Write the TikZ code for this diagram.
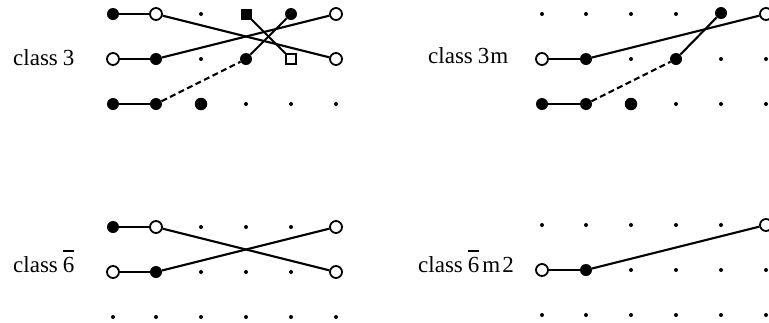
\documentclass[tikz,border=0pt]{standalone}
\usepackage{fontspec}
\setmainfont{Liberation Serif}
\newcommand{\ovsix}{\mbox{\raisebox{0pt}[0pt][0pt]{\rlap{\rule[20pt]{11pt}{1.6pt}}}6}}
\begin{document}
\begin{tikzpicture}[x=1pt,y=-1pt,
  fdot/.style={circle,fill=black,inner sep=0pt,minimum size=12pt},
  bdot/.style={circle,fill=black,inner sep=0pt,minimum size=12.5pt},
  odot/.style={circle,draw=black,fill=white,line width=1.8pt,inner sep=0pt,minimum size=12pt},
  sdot/.style={circle,fill=black,inner sep=0pt,minimum size=4pt},
  fsq/.style={rectangle,fill=black,inner sep=0pt,minimum size=11pt},
  osq/.style={rectangle,draw=black,fill=white,line width=1.5pt,inner sep=0pt,minimum size=10pt},
  conn/.style={line width=2.1pt},
  dconn/.style={line width=2.1pt,dash pattern=on 6pt off 3.5pt},
  lbl/.style={anchor=base west,inner sep=0pt,font=\fontsize{23}{25}\selectfont}]
\useasboundingbox (0,0) rectangle (769,322);
% ---------- class 3 ----------
\node[lbl] (l1) at (13,65) {class\hspace{5pt}3};
\node[fdot] (a11) at (113,14) {};
\node[odot] (a12) at (156,14) {};
\node[sdot] (a13) at (201,14) {};
\node[fsq]  (a14) at (246,14) {};
\node[fdot] (a15) at (291,14) {};
\node[odot] (a16) at (336,14) {};
\node[odot] (a21) at (113,59) {};
\node[fdot] (a22) at (156,59) {};
\node[sdot] (a23) at (201,59) {};
\node[fdot] (a24) at (246,59) {};
\node[osq]  (a25) at (291,59) {};
\node[odot] (a26) at (336,59) {};
\node[fdot] (a31) at (113,104) {};
\node[fdot] (a32) at (156,104) {};
\node[bdot] (a33) at (201,104) {};
\node[sdot] (a34) at (246,104) {};
\node[sdot] (a35) at (291,104) {};
\node[sdot] (a36) at (336,104) {};
\draw[conn] (a11) -- (a12);
\draw[conn] (a12) -- (a26);
\draw[conn] (a21) -- (a22);
\draw[conn] (a22) -- (a16);
\draw[conn] (a31) -- (a32);
\draw[dconn] (a32) -- (a24);
\draw[conn] (a24) -- (a15);
\draw[conn] (a14) -- (a25);
% ---------- class 3m ----------
\node[lbl] (l2) at (428,63) {class\hspace{5pt}3\hspace{1pt}m};
\node[sdot] (b11) at (542,14) {};
\node[sdot] (b12) at (586,14) {};
\node[sdot] (b13) at (631,14) {};
\node[sdot] (b14) at (676,14) {};
\node[fdot] (b15) at (721,13) {};
\node[odot] (b16) at (766,14) {};
\node[odot] (b21) at (542,59) {};
\node[fdot] (b22) at (586,59) {};
\node[sdot] (b23) at (631,59) {};
\node[fdot] (b24) at (676,59) {};
\node[sdot] (b25) at (721,59) {};
\node[sdot] (b26) at (766,59) {};
\node[fdot] (b31) at (542,104) {};
\node[fdot] (b32) at (586,104) {};
\node[bdot] (b33) at (631,104) {};
\node[sdot] (b34) at (676,104) {};
\node[sdot] (b35) at (721,104) {};
\node[sdot] (b36) at (766,104) {};
\draw[conn] (b21) -- (b22);
\draw[conn] (b22) -- (b16);
\draw[conn] (b31) -- (b32);
\draw[dconn] (b32) -- (b24);
\draw[conn] (b24) -- (b15);
% ---------- class 6bar ----------
\node[lbl] (l3) at (13,272) {class\hspace{5pt}\ovsix};
\node[fdot] (c11) at (113,227) {};
\node[odot] (c12) at (156,227) {};
\node[sdot] (c13) at (201,227) {};
\node[sdot] (c14) at (246,227) {};
\node[sdot] (c15) at (291,227) {};
\node[odot] (c16) at (336,227) {};
\node[odot] (c21) at (113,272) {};
\node[fdot] (c22) at (156,272) {};
\node[sdot] (c23) at (201,272) {};
\node[sdot] (c24) at (246,272) {};
\node[sdot] (c25) at (291,272) {};
\node[odot] (c26) at (336,272) {};
\node[sdot] (c31) at (113,317) {};
\node[sdot] (c32) at (156,317) {};
\node[sdot] (c33) at (201,317) {};
\node[sdot] (c34) at (246,317) {};
\node[sdot] (c35) at (291,317) {};
\node[sdot] (c36) at (336,317) {};
\draw[conn] (c11) -- (c12);
\draw[conn] (c12) -- (c26);
\draw[conn] (c21) -- (c22);
\draw[conn] (c22) -- (c16);
% ---------- class 6bar m 2 ----------
\node[lbl] (l4) at (418,272) {class\hspace{5pt}\ovsix\hspace{3pt}m\hspace{2pt}2};
\node[sdot] (d11) at (542,225) {};
\node[sdot] (d12) at (586,225) {};
\node[sdot] (d13) at (631,225) {};
\node[sdot] (d14) at (676,225) {};
\node[sdot] (d15) at (721,225) {};
\node[odot] (d16) at (766,225) {};
\node[odot] (d21) at (542,270) {};
\node[fdot] (d22) at (586,270) {};
\node[sdot] (d23) at (631,270) {};
\node[sdot] (d24) at (676,270) {};
\node[sdot] (d25) at (721,270) {};
\node[sdot] (d26) at (766,270) {};
\node[sdot] (d31) at (542,315) {};
\node[sdot] (d32) at (586,315) {};
\node[sdot] (d33) at (631,315) {};
\node[sdot] (d34) at (676,315) {};
\node[sdot] (d35) at (721,315) {};
\node[sdot] (d36) at (766,315) {};
\draw[conn] (d21) -- (d22);
\draw[conn] (d22) -- (d16);
\end{tikzpicture}
\end{document}
